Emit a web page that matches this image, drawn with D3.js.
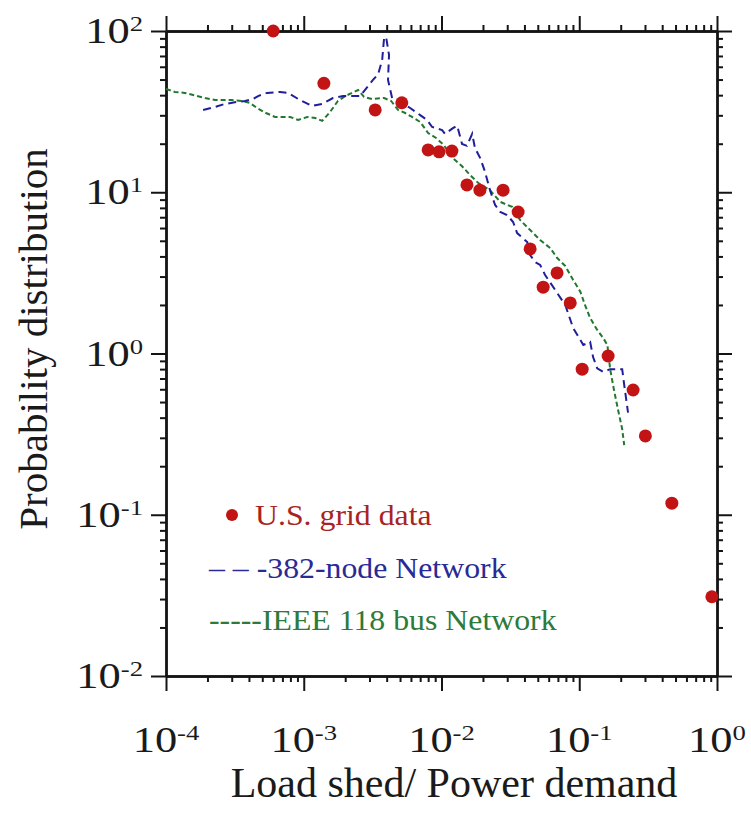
<!DOCTYPE html>
<html>
<head>
<meta charset="utf-8">
<script src="https://cdn.jsdelivr.net/npm/d3@7"></script>
<style>
  html, body { margin: 0; padding: 0; background: #ffffff; }
  svg { display: block; }
</style>
</head>
<body>
<svg id="chart" width="751" height="823"></svg>
<script>
// U.S. grid blackout data: load shed fraction vs. probability distribution
const usGridLoad = [6.0e-4, 1.40e-3, 3.30e-3, 5.15e-3, 8.0e-3, 9.6e-3, 1.19e-2, 1.53e-2, 1.90e-2, 2.80e-2,
  3.60e-2, 4.40e-2, 5.47e-2, 6.90e-2, 8.6e-2, 0.105, 0.162, 0.246, 0.302, 0.470, 0.918];
const usGridProb = [100, 47.4, 32.4, 35.9, 18.3, 17.8, 18.0, 11.1, 10.3, 10.3,
  7.54, 4.45, 2.58, 3.16, 2.06, 0.80, 0.965, 0.594, 0.308, 0.118, 0.031];

// 382-node network model
const node382Load = [1.86e-4, 2.27e-4, 2.68e-4, 3.28e-4, 3.75e-4, 4.29e-4, 4.66e-4, 5.41e-4, 6.73e-4, 7.69e-4,
  9.39e-4, 1.15e-3, 1.36e-3, 1.63e-3, 1.93e-3, 2.56e-3, 3.18e-3, 3.47e-3, 3.71e-3, 3.83e-3,
  3.96e-3, 4.16e-3, 4.09e-3, 4.38e-3, 5.00e-3, 5.92e-3, 7.00e-3, 7.85e-3, 8.55e-3, 1.01e-2,
  1.06e-2, 1.21e-2, 1.30e-2, 1.41e-2, 1.53e-2, 1.67e-2, 1.75e-2, 1.91e-2, 2.07e-2, 2.25e-2,
  2.45e-2, 2.67e-2, 2.99e-2, 3.31e-2, 3.54e-2, 4.19e-2, 4.40e-2, 4.79e-2, 5.20e-2, 5.65e-2,
  6.68e-2, 7.91e-2, 9.03e-2, 0.107, 0.120, 0.126, 0.135, 0.149, 0.168, 0.205,
  0.212, 0.226];
const node382Prob = [32.4, 33.8, 35.3, 36.3, 36.8, 37.9, 39.5, 41.3, 41.9, 41.3,
  37.3, 34.3, 35.3, 38.4, 39.5, 39.5, 49.7, 54.1, 66.1, 90.5,
  91.8, 71.0, 49.7, 38.4, 36.3, 33.3, 30.1, 28.1, 25.4, 24.3,
  23.0, 25.0, 25.8, 19.9, 19.4, 23.0, 18.8, 16.3, 13.4, 10.3,
  8.34, 7.55, 7.23, 6.54, 5.58, 4.91, 4.08, 3.69, 3.54, 3.07,
  2.48, 2.00, 1.44, 1.13, 1.18, 0.95, 0.81, 0.77, 0.80, 0.80,
  0.64, 0.43];

// IEEE 118 bus network model
const ieee118Load = [1.00e-4, 1.16e-4, 1.37e-4, 1.68e-4, 1.92e-4, 2.27e-4, 3.01e-4, 3.62e-4, 4.07e-4, 4.58e-4,
  5.32e-4, 6.19e-4, 7.96e-4, 9.10e-4, 1.06e-3, 1.21e-3, 1.36e-3, 1.55e-3, 1.77e-3, 2.00e-3,
  2.24e-3, 2.48e-3, 2.74e-3, 3.13e-3, 3.83e-3, 4.31e-3, 4.84e-3, 5.45e-3, 6.11e-3, 7.00e-3,
  8.00e-3, 9.14e-3, 1.04e-2, 1.21e-2, 1.41e-2, 1.61e-2, 1.85e-2, 2.25e-2, 2.67e-2, 3.26e-2,
  3.72e-2, 4.40e-2, 5.20e-2, 6.15e-2, 6.92e-2, 7.91e-2, 9.03e-2, 0.102, 0.110, 0.120,
  0.135, 0.149, 0.160, 0.168, 0.179, 0.191, 0.205, 0.212];
const ieee118Prob = [43.7, 41.9, 41.3, 39.5, 38.4, 37.3, 37.3, 36.8, 35.8, 33.3,
  31.0, 29.3, 29.3, 28.1, 29.3, 28.9, 27.7, 31.4, 36.8, 39.5,
  41.3, 43.1, 39.0, 37.9, 38.4, 36.8, 32.4, 31.0, 29.3, 27.3,
  23.3, 21.7, 19.6, 16.3, 14.5, 12.8, 11.4, 10.3, 8.71, 8.11,
  6.73, 5.83, 5.06, 4.51, 3.91, 3.49, 2.86, 2.41, 2.00, 1.66,
  1.40, 1.25, 1.13, 0.79, 0.59, 0.45, 0.34, 0.27];

// Axis decades (exponents of ten)
const xTickExps = [-4, -3, -2, -1, 0];
const yTickExps = [2, 1, 0, -1, -2];
const labelBase = "10";

const legendLabels = ["U.S. grid data", "\u2013 \u2013 -382-node Network", "-----IEEE 118 bus Network"];
const xTitle = "Load shed/ Power demand";
const yTitle = "Probability distribution";

const colors = { red: "#c21414", blue: "#1f1f9c", green: "#23782f", axis: "#141414" };
const serif = "'Liberation Serif', 'Times New Roman', serif";

const svg = d3.select("#chart");
const plotLeft = 166, plotRight = 717, plotTop = 31, plotBottom = 676;

const x = d3.scaleLog().domain([1e-4, 1]).range([plotLeft, plotRight]);
const y = d3.scaleLog().domain([1e-2, 1e2]).range([plotBottom, plotTop]);

// Minor tick values: 2..9 times each decade inside the domain
function minors(exps) {
  const lo = d3.min(exps), hi = d3.max(exps);
  const out = [];
  for (let e = lo; e < hi; e++) for (let m = 2; m <= 9; m++) out.push(m * Math.pow(10, e));
  return out;
}
const xMajor = xTickExps.map(e => Math.pow(10, e));
const yMajor = yTickExps.map(e => Math.pow(10, e));
const xMinor = minors(xTickExps);
const yMinor = minors(yTickExps);

const majorLen = 15, minorLen = 6;

function styleAxis(g) {
  g.selectAll("path.domain").attr("stroke", colors.axis).attr("stroke-width", 2.4);
  g.selectAll(".tick line").attr("stroke", colors.axis).attr("stroke-width", 2);
  g.selectAll(".tick text").remove();
}

function sideAxis(axisFn, scale, pos, horizontal) {
  const tr = horizontal ? `translate(0,${pos})` : `translate(${pos},0)`;
  const [minorVals, majorVals] = horizontal ? [xMinor, xMajor] : [yMinor, yMajor];
  svg.append("g").attr("transform", tr)
    .call(axisFn(scale).tickValues(minorVals).tickSize(minorLen).tickSizeOuter(0).tickFormat(""))
    .call(styleAxis);
  svg.append("g").attr("transform", tr)
    .call(axisFn(scale).tickValues(majorVals).tickSize(majorLen).tickSizeOuter(0).tickFormat(""))
    .call(styleAxis);
}
sideAxis(d3.axisBottom, x, plotBottom, true);
sideAxis(d3.axisTop, x, plotTop, true);
sideAxis(d3.axisLeft, y, plotLeft, false);
sideAxis(d3.axisRight, y, plotRight, false);

// Tick labels written as 10 with a superscript exponent
const labelSize = 35, supSize = 21, stretch = 1.27;
function powerLabel(g, exp, anchor) {
  const t = g.append("text")
    .attr("font-family", serif).attr("font-size", labelSize).attr("fill", "#1a1a1a")
    .attr("text-anchor", anchor);
  t.append("tspan").text(labelBase);
  t.append("tspan").attr("font-size", supSize).attr("dy", -12).text(String(exp));
  return t;
}
xTickExps.forEach(e => {
  const g = svg.append("g").attr("transform", `translate(${x(Math.pow(10, e))},752) scale(${stretch},1)`);
  powerLabel(g, e, "middle");
});
yTickExps.forEach(e => {
  const g = svg.append("g").attr("transform", `translate(143,${y(Math.pow(10, e)) + 12}) scale(${stretch},1)`);
  powerLabel(g, e, "end");
});

// Axis titles
svg.append("text").attr("x", 454).attr("y", 797)
  .attr("text-anchor", "middle").attr("font-family", serif).attr("font-size", 42).attr("fill", "#1a1a1a")
  .text(xTitle);
svg.append("text").attr("transform", "translate(47,339) rotate(-90)")
  .attr("text-anchor", "middle").attr("font-family", serif).attr("font-size", 41).attr("fill", "#1a1a1a")
  .text(yTitle);

// Model curves
const plot = svg.append("g");
const line = d3.line().x(d => x(d[0])).y(d => y(d[1]));
plot.append("path")
  .datum(d3.zip(ieee118Load, ieee118Prob))
  .attr("d", line).attr("fill", "none")
  .attr("stroke", colors.green).attr("stroke-width", 2).attr("stroke-dasharray", "5,3");
plot.append("path")
  .datum(d3.zip(node382Load, node382Prob))
  .attr("d", line).attr("fill", "none")
  .attr("stroke", colors.blue).attr("stroke-width", 2).attr("stroke-dasharray", "8,5");

// U.S. grid data points
plot.selectAll("circle.us")
  .data(d3.zip(usGridLoad, usGridProb))
  .join("circle").attr("class", "us")
  .attr("cx", d => x(d[0])).attr("cy", d => y(d[1])).attr("r", 6.5)
  .attr("fill", colors.red);

// Legend
const legend = svg.append("g");
const legendSize = 30, legendStretch = 1.06;
function legendText(px, py, color, label) {
  legend.append("g").attr("transform", `translate(${px},${py}) scale(${legendStretch},1)`)
    .append("text").attr("font-family", serif).attr("font-size", legendSize).attr("fill", color).text(label);
}
legend.append("circle").attr("cx", 232).attr("cy", 515).attr("r", 6).attr("fill", colors.red);
legendText(255, 525, "#a82323", legendLabels[0]);
legendText(209, 578, "#2a2a96", legendLabels[1]);
legendText(209, 630, "#2d7a3a", legendLabels[2]);
</script>
</body>
</html>
